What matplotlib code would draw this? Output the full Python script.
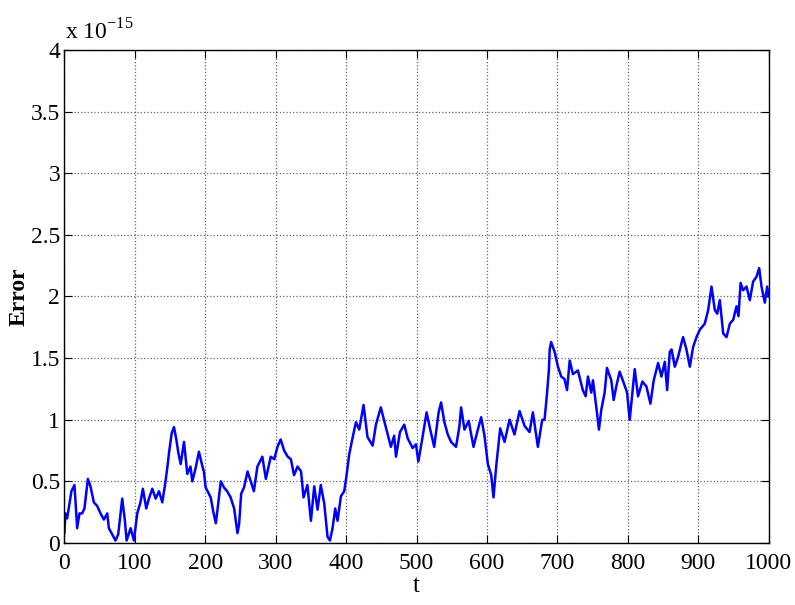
import matplotlib
matplotlib.use('Agg')
import matplotlib.pyplot as plt
from matplotlib.ticker import FuncFormatter

# error trace, values in units of 1e-15
t = [0, 1.5, 3.9, 10, 14.3, 18.1, 21.4, 25.2, 28.5, 33.3, 37, 41.8, 46.6, 51.3,
     56, 60.8, 63.1, 67.9, 72.6, 76.4, 82.1, 85.9, 88.3, 94, 98.7, 103.4, 108,
     111.4, 116.2, 120, 124.8, 129.5, 134.3, 139, 142.8, 146.1, 148.5, 152.3,
     155.6, 158.9, 161.8, 165.1, 169.8, 174.5, 179, 181.6, 186, 191, 196, 198,
     200.6, 205, 207.7, 211.5, 215, 218, 222, 226.6, 231, 236, 241, 245.7, 248,
     251, 255, 260, 264.6, 269, 274, 281, 286, 293, 298, 302.5, 307, 312, 317,
     321.5, 326, 331, 336, 339.5, 345, 350, 354.7, 359.4, 364, 368.9, 373.6,
     377, 380.7, 384.5, 387.8, 392.6, 397.3, 400.6, 404.4, 409, 413.9, 418.6,
     424.7, 430.3, 437.6, 442.3, 449.2, 455.5, 463.5, 468.2, 470.8, 476.4,
     482.5, 487.3, 494.4, 499.2, 502.5, 508.5, 514.2, 519, 525, 531.3, 534.8,
     539.5, 544.3, 549, 556, 560.9, 563.2, 568, 574, 580.8, 587, 591.7, 596.4,
     601.2, 606, 609.2, 613, 618.7, 624.9, 632, 639, 646.2, 653.3, 660.4,
     665.1, 672.2, 678.4, 681.7, 685, 687.8, 689, 691, 696, 700.7, 705.4, 710,
     713.6, 717.4, 722, 729, 736, 740, 743.3, 748, 750.4, 755, 758.9, 762.2,
     767, 770.3, 776.4, 779.8, 783.5, 788.3, 794, 798.8, 802.6, 806.4, 809.7,
     814.4, 820.6, 826.3, 832, 836.7, 842.9, 847.6, 852.4, 855.7, 859.5,
     862, 866.6, 871.3, 876, 878.4, 883.1, 887.9, 892.6, 897.4, 902.1, 909.2,
     914, 918.7, 923.4, 926.8, 930.5, 935.3, 940, 944.8, 949.5, 954.2, 957,
     960, 963.6, 968.4, 973.1, 977.8, 982.6, 986.4, 989.7, 994.4, 997.7, 1000]
err_e15 = [0.08, 0.24, 0.20, 0.42, 0.47, 0.12, 0.24, 0.24, 0.28, 0.52, 0.46,
           0.33, 0.30, 0.24, 0.19, 0.24, 0.12, 0.07, 0.02, 0.07, 0.36, 0.18,
           0.02, 0.12, 0.02, 0.24, 0.33, 0.44, 0.28, 0.36, 0.44, 0.36, 0.42,
           0.33, 0.47, 0.61, 0.73, 0.89, 0.94, 0.84, 0.73, 0.64, 0.82, 0.56,
           0.62, 0.50, 0.60, 0.74, 0.62, 0.58, 0.45, 0.40, 0.37, 0.25, 0.16,
           0.30, 0.50, 0.45, 0.42, 0.37, 0.28, 0.08, 0.15, 0.40, 0.45, 0.58,
           0.50, 0.42, 0.62, 0.70, 0.52, 0.70, 0.68, 0.78, 0.84, 0.75, 0.70,
           0.68, 0.55, 0.62, 0.58, 0.37, 0.47, 0.18, 0.46, 0.27, 0.47, 0.32,
           0.05, 0.02, 0.12, 0.28, 0.18, 0.38, 0.42, 0.55, 0.72, 0.85, 0.98,
           0.92, 1.12, 0.86, 0.79, 0.96, 1.10, 0.96, 0.78, 0.87, 0.70, 0.90,
           0.96, 0.85, 0.77, 0.80, 0.66, 0.86, 1.06, 0.93, 0.78, 1.06, 1.14,
           0.98, 0.88, 0.82, 0.78, 0.95, 1.10, 0.92, 0.99, 0.78, 0.92, 1.02,
           0.87, 0.64, 0.55, 0.37, 0.62, 0.93, 0.82, 1.00, 0.88, 1.07, 0.95,
           0.90, 1.06, 0.78, 1.00, 1.00, 1.20, 1.40, 1.57, 1.63, 1.55, 1.43,
           1.35, 1.33, 1.24, 1.48, 1.37, 1.40, 1.24, 1.19, 1.35, 1.22, 1.32,
           1.11, 0.92, 1.08, 1.22, 1.42, 1.32, 1.16, 1.27, 1.39, 1.30, 1.22,
           1.00, 1.22, 1.41, 1.19, 1.31, 1.27, 1.13, 1.32, 1.46, 1.35, 1.47,
           1.24, 1.55, 1.57, 1.43, 1.51, 1.62, 1.67, 1.57, 1.43, 1.59, 1.67,
           1.73, 1.78, 1.89, 2.08, 1.89, 1.86, 1.97, 1.70, 1.67, 1.78, 1.81,
           1.92, 1.84, 2.11, 2.05, 2.08, 1.97, 2.12, 2.16, 2.23, 2.08, 1.95,
           2.08, 2.00]

x_ticks = [0, 100, 200, 300, 400, 500, 600, 700, 800, 900, 1000]
y_ticks = [0, 0.5, 1, 1.5, 2, 2.5, 3, 3.5, 4]

plt.rcParams['font.family'] = ['Liberation Serif', 'DejaVu Serif']
plt.rcParams['mathtext.fontset'] = 'custom'
plt.rcParams['mathtext.rm'] = 'Liberation Serif'

fig = plt.figure(figsize=(7.95, 6.05), dpi=100)
ax = fig.add_axes([0.081, 0.1025, 0.886, 0.815])

ax.plot(t, err_e15, color=(0, 0, 1), lw=1.8)

ax.set_xlim(0, 1000)
ax.set_ylim(0, 4)
ax.set_xticks(x_ticks)
ax.set_yticks(y_ticks)
ax.yaxis.set_major_formatter(FuncFormatter(lambda v, p: '%g' % v))
ax.tick_params(direction='in', length=5.8, width=0.8, labelsize=17,
               top=True, right=True)
ax.tick_params(axis='x', pad=7)
ax.tick_params(axis='y', pad=3)
ax.grid(True, linestyle=':', color='0.4', lw=0.9)
for s in ax.spines.values():
    s.set_linewidth(1.0)

ax.set_xlabel('t', fontsize=18, labelpad=1)
ax.set_ylabel('Error', fontsize=17, fontweight='bold', labelpad=1)
fig.text(0.082, 0.927, r'x 10$^{-15}$', fontsize=17, ha='left', va='bottom')

fig.savefig('out.png', dpi=100)
